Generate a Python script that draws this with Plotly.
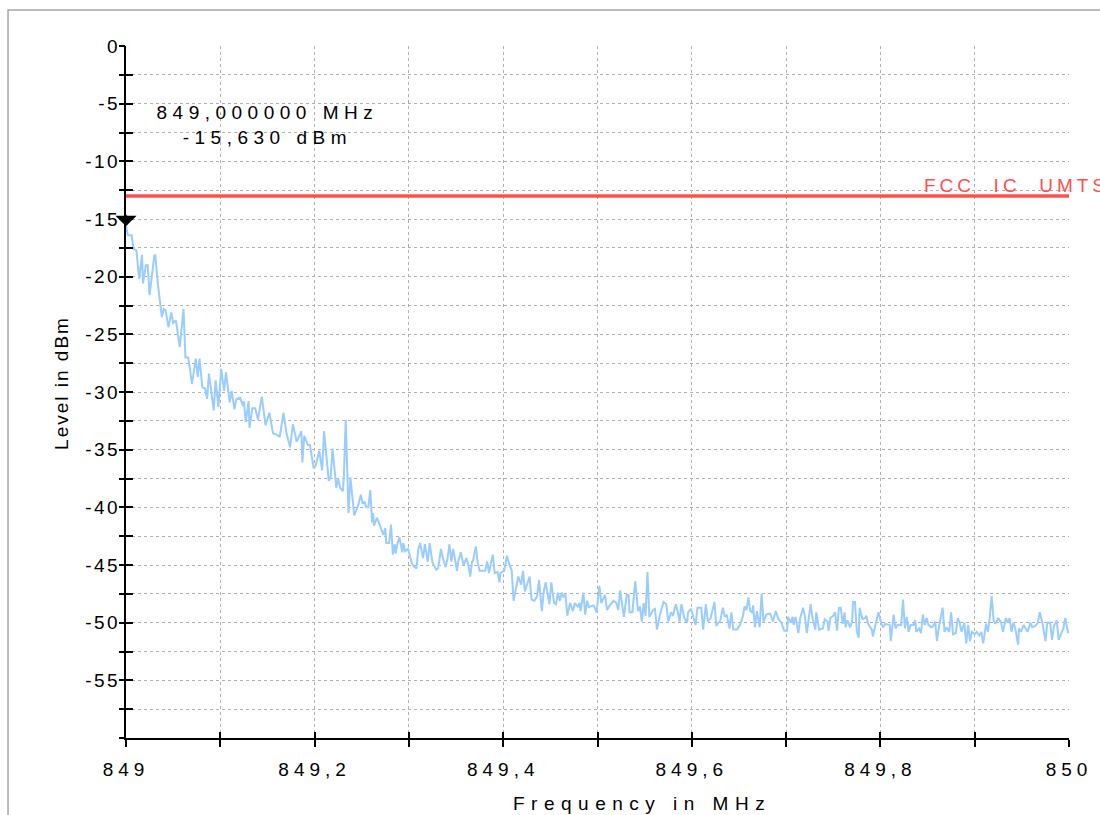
import plotly.graph_objects as go

# ---------------- data ----------------
freq_start_mhz = 849.0
freq_stop_mhz = 850.0

# trace: frequency offset from 849 MHz in kHz, level in dBm
freq_offset_khz = [
    0, 2, 6, 8, 11, 14, 17, 18, 21, 23, 25, 27, 30, 31, 34, 38, 40, 42, 45, 48,
    50, 53, 57, 61, 63, 66, 70, 74, 76, 78, 81, 84, 86, 88, 93, 95, 98, 101, 104, 106,
    110, 112, 115, 117, 121, 124, 125, 127, 130, 131, 134, 137, 140, 144, 148, 152, 156, 160, 163, 167,
    170, 174, 177, 181, 186, 187, 189, 193, 195, 199, 201, 205, 208, 210, 215, 217, 219, 223, 225,
    227, 230, 231, 233, 236, 238, 242, 245, 246, 249, 251, 253, 255, 257, 259, 261, 262, 263, 266, 269,
    271, 273, 275, 276, 279, 281, 283, 285, 286, 288, 290, 292, 293, 294, 296, 299, 303, 305, 308, 310,
    312, 315, 317, 320, 322, 325, 329, 331, 334, 336, 339, 341, 343, 345, 347, 351, 352, 355, 358, 361,
    363, 365, 367, 368, 371, 373, 375, 378, 381, 383, 385, 387, 389, 391, 394, 396, 397, 401, 404, 406,
    409, 411, 414, 416, 419, 421, 423, 425, 428, 430, 433, 436, 438, 441, 443, 445, 449, 451, 454, 456,
    458, 460, 462, 464, 466, 468, 471, 474, 476, 479, 481, 482, 485, 487, 489, 491,
    492, 496, 499, 502, 504, 508, 510, 513, 517, 520, 522, 524, 526, 528, 531, 533, 534, 537, 540, 543,
    545, 547, 549, 551, 553, 555, 559, 561, 563, 566, 570, 573, 575, 578, 580, 583, 585, 587, 589, 592,
    595, 596, 599, 601, 604, 606, 610, 612, 615, 617, 620, 624, 626, 628, 630, 633, 635, 637, 640, 642,
    644, 648, 651, 654, 656, 658, 660, 662, 664, 665, 667, 669, 672, 674, 676, 679, 683, 686, 689, 692,
    695, 698, 701, 702, 705, 707, 708, 710, 713, 715, 718, 720, 722, 726, 728, 731, 732, 735, 739, 741,
    744, 745, 747, 750,
    752, 754, 756, 758, 760, 762, 763, 765, 768, 770, 771, 773, 775, 777, 778, 781, 784, 785, 787, 791,
    792, 795, 798, 801, 803, 805, 808, 810, 811, 814, 816, 818, 822, 824, 826, 828, 830, 832, 835, 837,
    838, 841, 843, 845, 847, 849, 851, 854, 856, 858, 860, 862, 866, 868, 870, 873, 875, 877, 880, 882,
    884, 886, 889, 891, 893, 895, 897, 900, 902, 905, 907, 909, 912, 914, 916, 918, 920, 922, 925, 928,
    930, 933, 935, 937, 939, 941, 943, 946, 947, 949, 952, 954, 956, 959, 961, 964, 967, 969, 972, 975,
    977, 980, 982, 984, 987, 989, 992, 994, 996, 999, 1000,
]

level_dbm = [
    -15.63, -16.4, -16.4, -17.6, -17.7, -20.2, -18.1, -20.6, -19.0, -19.0, -21.6, -20.2, -18.2, -18.1, -20.8, -23.5, -22.8, -22.9, -24.4, -23.1,
    -24.0, -23.8, -26.1, -22.8, -27.0, -27.0, -29.3, -27.1, -28.7, -27.1, -29.6, -29.7, -30.6, -28.4, -31.6, -29.0, -31.3, -28.0, -29.9, -28.3,
    -30.9, -29.9, -31.5, -30.6, -30.5, -31.2, -30.8, -32.6, -30.8, -33.1, -31.4, -31.4, -32.4, -30.4, -32.9, -31.8, -33.6, -33.7, -33.9, -31.8,
    -33.5, -34.8, -32.8, -34.3, -33.4, -36.1, -33.8, -34.6, -34.6, -36.6, -36.4, -35.1, -36.8, -33.4, -37.7, -37.4, -34.9, -38.3, -37.5,
    -38.3, -38.6, -37.4, -32.4, -40.5, -37.4, -40.7, -40.2, -39.9, -38.9, -39.7, -39.5, -40.0, -40.0, -38.5, -41.3, -40.5, -41.6, -40.9, -41.5,
    -42.0, -42.4, -41.8, -43.1, -43.1, -41.5, -44.1, -43.2, -44.0, -43.1, -42.6, -43.3, -43.9, -43.1, -43.8, -43.6, -44.8, -45.1, -45.3, -43.6,
    -43.1, -44.4, -43.2, -44.7, -43.1, -44.8, -45.4, -45.3, -43.6, -44.4, -45.2, -44.4, -43.2, -44.7, -43.6, -45.5, -44.8, -43.9, -45.0, -44.4,
    -45.0, -46.0, -44.7, -44.6, -43.4, -44.8, -45.5, -45.5, -45.5, -44.7, -45.7, -44.8, -44.1, -45.7, -45.6, -46.5, -45.7, -45.5, -44.2, -44.8,
    -45.5, -48.1, -46.8, -46.0, -46.7, -45.5, -47.3, -46.8, -46.0, -48.0, -48.1, -47.7, -46.3, -49.0, -47.3, -46.5, -48.4, -46.5, -48.3, -48.4,
    -47.4, -48.1, -47.4, -47.8, -47.5, -49.4, -48.3, -49.0, -48.3, -48.6, -48.3, -49.0, -47.4, -49.3, -48.1, -48.7,
    -48.6, -48.5, -49.1, -46.8, -48.3, -47.6, -48.9, -48.5, -48.1, -48.3, -48.9, -47.2, -48.2, -49.5, -47.6, -47.6, -49.1, -49.1, -46.4, -49.0,
    -48.6, -49.9, -48.3, -49.4, -45.6, -49.5, -48.9, -48.8, -50.6, -49.4, -48.2, -48.4, -49.9, -49.1, -49.4, -48.4, -49.0, -49.9, -48.4, -49.6,
    -50.0, -49.1, -48.8, -49.3, -50.2, -48.7, -48.7, -50.6, -48.4, -49.9, -49.6, -48.2, -50.3, -50.0, -49.9, -48.7, -49.5, -49.3, -50.5, -49.1,
    -50.6, -50.6, -50.2, -49.5, -48.6, -48.9, -47.8, -49.0, -49.1, -48.5, -50.4, -49.0, -50.4, -47.5, -49.9, -49.3, -49.2, -49.9, -49.0, -49.7,
    -50.0, -50.7, -50.7, -49.5, -50.0, -49.5, -50.2, -49.5, -50.9, -49.6, -48.7, -49.5, -50.9, -48.4, -49.6, -50.6, -49.1, -50.6, -50.5, -49.7,
    -49.9, -50.7, -49.6, -49.4,
    -49.1, -50.7, -48.7, -48.7, -50.1, -49.1, -50.4, -49.8, -50.4, -49.9, -48.2, -48.2, -50.8, -51.3, -48.7, -49.7, -49.6, -49.4, -50.1, -50.6,
    -51.2, -50.1, -49.1, -50.1, -50.4, -50.1, -50.2, -50.2, -51.6, -49.3, -50.5, -50.2, -50.2, -48.0, -50.5, -49.5, -50.8, -50.2, -50.2, -49.8,
    -50.8, -50.5, -50.9, -49.3, -50.2, -49.6, -50.2, -50.4, -50.3, -49.9, -51.6, -50.4, -48.7, -50.8, -50.4, -50.8, -49.1, -51.0, -50.9, -49.6,
    -50.0, -50.8, -50.0, -51.8, -50.2, -51.6, -50.8, -51.0, -50.8, -51.1, -50.8, -51.8, -50.1, -50.8, -49.5, -47.7, -49.8, -50.1, -49.6, -50.0,
    -50.8, -49.6, -50.0, -49.6, -50.8, -50.0, -50.5, -51.9, -50.5, -50.8, -50.2, -50.5, -50.8, -50.0, -50.4, -50.3, -50.0, -49.1, -50.1, -51.6,
    -50.0, -50.0, -51.5, -50.3, -49.8, -51.5, -50.9, -50.5, -49.6, -50.9, -50.6,
]

limit_dbm = -13.0
limit_label = "FCC  IC  UMTS"

marker_freq_mhz = 849.0
marker_level_dbm = -15.63

x_tick_vals = [849.0, 849.1, 849.2, 849.3, 849.4, 849.5, 849.6, 849.7, 849.8, 849.9, 850.0]
x_tick_text = ["849", "", "849,2", "", "849,4", "", "849,6", "", "849,8", "", "850"]
y_tick_vals = [0, -2.5, -5, -7.5, -10, -12.5, -15, -17.5, -20, -22.5, -25, -27.5, -30,
               -32.5, -35, -37.5, -40, -42.5, -45, -47.5, -50, -52.5, -55, -57.5, -60]
y_tick_text = ["0", "", "-5", "", "-10", "", "-15", "", "-20", "", "-25", "", "-30",
               "", "-35", "", "-40", "", "-45", "", "-50", "", "-55", "", ""]
y_range = [-60, 0]

# ---------------- figure ----------------
FONT = "Liberation Sans, Arial, sans-serif"
freq_mhz = [freq_start_mhz + k / 1000.0 for k in freq_offset_khz]

fig = go.Figure()
fig.add_trace(go.Scatter(
    x=freq_mhz, y=level_dbm, mode="lines",
    line=dict(color="#99ccff", width=2), hoverinfo="skip",
))
fig.add_trace(go.Scatter(
    x=[freq_start_mhz, freq_stop_mhz], y=[limit_dbm, limit_dbm], mode="lines",
    line=dict(color="#ff5050", width=3.5), hoverinfo="skip",
))
# helper traces for the tick marks that cross the axis lines
fig.add_trace(go.Scatter(
    x=[freq_start_mhz], y=[y_range[0]], xaxis="x2", yaxis="y2", mode="markers",
    marker=dict(opacity=0), hoverinfo="skip",
))
fig.add_trace(go.Scatter(
    x=[freq_start_mhz], y=[y_range[0]], xaxis="x2", yaxis="y3", mode="markers",
    marker=dict(opacity=0), hoverinfo="skip",
))

grid = dict(showgrid=True, gridcolor="#b0b0b0", gridwidth=1.2, griddash="dot")
tickfont = dict(family=FONT, size=19, color="black")

fig.update_layout(
    width=1100, height=815,
    margin=dict(l=126, r=31, t=46, b=77),
    paper_bgcolor="white", plot_bgcolor="white",
    showlegend=False,
    xaxis=dict(range=[freq_start_mhz, freq_stop_mhz], tickmode="array",
               tickvals=x_tick_vals, ticktext=x_tick_text, ticklabelstandoff=6,
               showline=True, linecolor="black", linewidth=2,
               ticks="outside", ticklen=7, tickwidth=1.6, tickcolor="black",
               zeroline=False, tickfont=tickfont, **grid),
    yaxis=dict(range=y_range, tickmode="array", tickvals=y_tick_vals,
               ticktext=y_tick_text, ticks="", ticklabelstandoff=0,
               showline=True, linecolor="black", linewidth=2,
               zeroline=False, tickfont=tickfont, **grid),
    xaxis2=dict(overlaying="x", matches="x", anchor="y2", side="bottom",
                tickmode="array", tickvals=x_tick_vals, ticks="inside", ticklen=6,
                tickwidth=1.6, tickcolor="black", showticklabels=False,
                showgrid=False, showline=False, zeroline=False),
    yaxis2=dict(overlaying="y", matches="y", anchor="x2", side="left",
                tickmode="array", tickvals=y_tick_vals, ticks="inside", ticklen=7,
                tickwidth=1.6, tickcolor="black", showticklabels=False,
                showgrid=False, showline=False, zeroline=False),
    yaxis3=dict(overlaying="y", matches="y", anchor="x2", side="left",
                tickmode="array", tickvals=y_tick_vals, ticks="outside", ticklen=6,
                tickwidth=1.6, tickcolor="black", showticklabels=False,
                showgrid=False, showline=False, zeroline=False),
)

marker_text = (f"{marker_freq_mhz:.6f}".replace(".", ",") + " MHz<br>"
               + f"{marker_level_dbm:.3f}".replace(".", ",") + " dBm")

# 0: marker read-out
fig.add_annotation(
    x=0.150, y=0.886, xref="paper", yref="paper", text=marker_text,
    showarrow=False, xanchor="center", yanchor="middle", align="center",
    font=dict(family=FONT, size=19, color="black"),
)
# 1: limit line label (left edge compensated for the added letter spacing)
fig.add_annotation(
    x=0.872, y=limit_dbm, xref="paper", yref="y", text=limit_label,
    showarrow=False, xanchor="left", yanchor="bottom", yshift=-2,
    font=dict(family=FONT, size=19, color="#ff5050"),
)
# 2: x axis title
fig.add_annotation(
    x=0.547, y=-0.094, xref="paper", yref="paper", text="Frequency in MHz",
    showarrow=False, xanchor="center", yanchor="middle",
    font=dict(family=FONT, size=19, color="black"),
)
# 3: marker triangle pointing at the marker position
fig.add_annotation(
    x=marker_freq_mhz, y=marker_level_dbm, xref="x", yref="y", text="",
    showarrow=True, ax=0, ay=-13, arrowhead=1, arrowsize=2.2, arrowwidth=1.6,
    arrowcolor="black", standoff=0,
)
# 4: y axis title
fig.add_annotation(
    x=-0.069, y=0.513, xref="paper", yref="paper", text="Level in dBm",
    showarrow=False, textangle=-90, xanchor="center", yanchor="middle",
    font=dict(family=FONT, size=19, color="black"),
)

# light grey frame of the original window
fig.add_shape(type="rect", xref="paper", yref="paper",
              x0=-0.1251, x1=1.2, y0=-0.3, y1=1.052,
              line=dict(color="#a6a6a6", width=1.5), fillcolor="rgba(0,0,0,0)")

post = """
var s=document.createElement('style');
s.innerHTML='body{margin:0;overflow:hidden}'
 + ' .xtick text{letter-spacing:5px}'
 + ' .ytick text{letter-spacing:2.5px}'
 + ' .annotation[data-index="0"] .annotation-text{letter-spacing:5.5px}'
 + ' .annotation[data-index="1"] .annotation-text{letter-spacing:4px}'
 + ' .annotation[data-index="2"] .annotation-text{letter-spacing:6.5px}'
 + ' .annotation[data-index="4"] .annotation-text{letter-spacing:2px}';
document.head.appendChild(s);
var gd=document.getElementById('{plot_id}');
Plotly.newPlot(gd, gd.data, gd.layout, {displayModeBar:false});
"""

fig.write_html("out.html", post_script=post, config={"displayModeBar": False})
